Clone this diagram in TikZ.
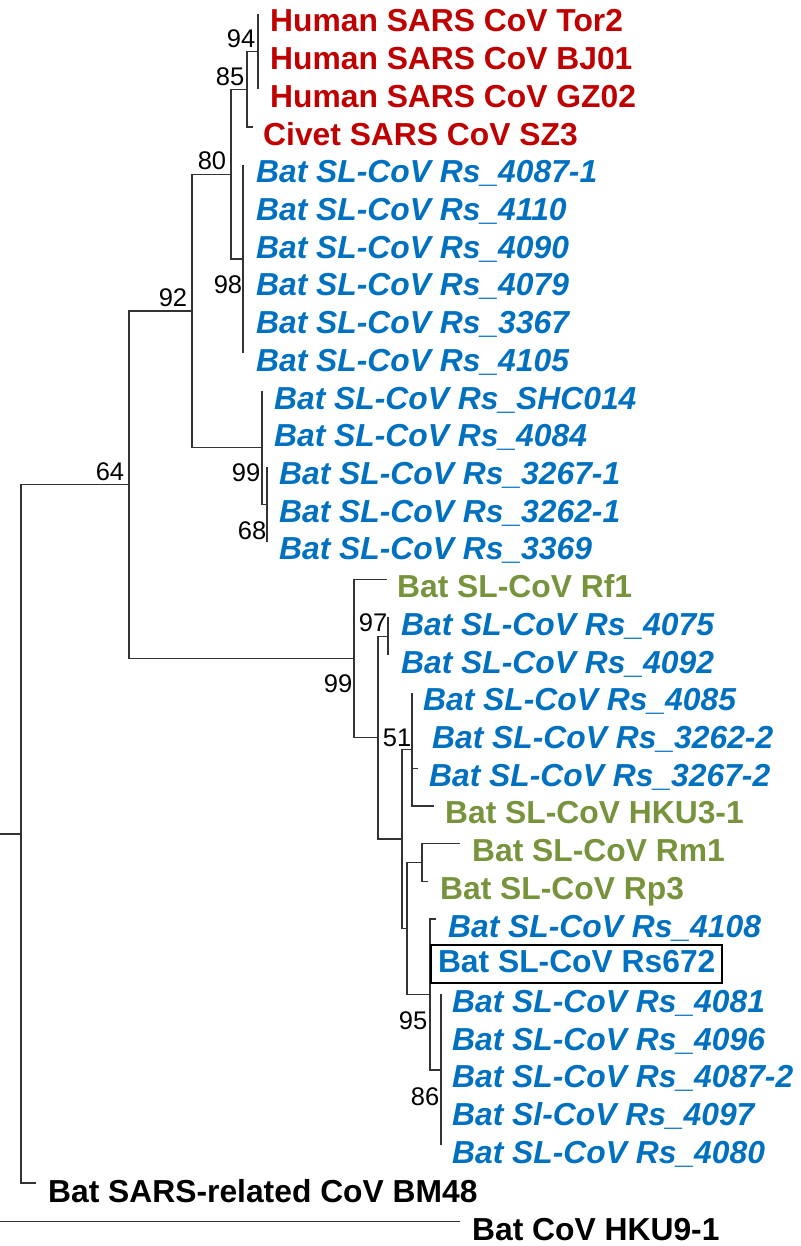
\documentclass[tikz,border=0pt]{standalone}
\usepackage{fontspec}
\setmainfont{Liberation Sans}
\definecolor{sarsred}{HTML}{C00000}
\definecolor{batblue}{HTML}{0070C0}
\definecolor{batgreen}{HTML}{77933C}
\begin{document}
\begin{tikzpicture}[x=1pt,y=-1pt,
  br/.style={line width=1.3pt, draw=black!80},
  lf/.style={anchor=base west, inner sep=0pt, font=\fontsize{31.8}{36}\selectfont\bfseries},
  hum/.style={lf, text=sarsred},
  bat/.style={lf, text=batblue, font=\fontsize{31.8}{36}\selectfont\bfseries\itshape},
  grn/.style={lf, text=batgreen},
  blk/.style={lf, text=black},
  bs/.style={inner sep=0pt, font=\fontsize{25.5}{28}\selectfont, text height=18.3pt, text depth=0pt, anchor=center}]
\useasboundingbox (0,0) rectangle (800,1246);
% internal nodes
\coordinate (r0) at (0,833.9);
\coordinate (rt) at (21,833.9);
\coordinate (n64) at (129,484.8);
\coordinate (n92) at (192,311);
\coordinate (n80) at (231,174.3);
\coordinate (n85) at (247,89.42);
\coordinate (n94) at (258,51.71);
\coordinate (n98) at (243,259.1);
\coordinate (n99a) at (262,447.7);
\coordinate (n68) at (267,504.23);
\coordinate (n99b) at (354,658.6);
\coordinate (nA) at (378,737.6);
\coordinate (n97) at (388,636.2);
\coordinate (nB) at (402,838.9);
\coordinate (n51) at (412,749.3);
\coordinate (nC) at (407,928.5);
\coordinate (nD) at (422,862.5);
\coordinate (n95) at (430,994.5);
\coordinate (n86) at (441,1069.88);
% tips
\coordinate (t1) at (258,14);
\coordinate (t2) at (258,51.71);
\coordinate (t3) at (258,89.42);
\coordinate (t4) at (253,127.13);
\coordinate (t5) at (243,164.84);
\coordinate (t6) at (243,202.55);
\coordinate (t7) at (243,240.26);
\coordinate (t8) at (243,277.97);
\coordinate (t9) at (243,315.68);
\coordinate (t10) at (243,353.39);
\coordinate (t11) at (262,391.1);
\coordinate (t12) at (262,428.81);
\coordinate (t13) at (267,466.52);
\coordinate (t14) at (267,504.23);
\coordinate (t15) at (267,541.94);
\coordinate (t16) at (387,579.65);
\coordinate (t17) at (388,617.36);
\coordinate (t18) at (388,655.07);
\coordinate (t19) at (412,692.78);
\coordinate (t20) at (412,730.49);
\coordinate (t21) at (418,768.2);
\coordinate (t22) at (434,805.91);
\coordinate (t23) at (460,843.62);
\coordinate (t24) at (428,881.33);
\coordinate (t25) at (436,919.04);
\coordinate (t26) at (430,956.75);
\coordinate (t27) at (441,994.46);
\coordinate (t28) at (441,1032.17);
\coordinate (t29) at (441,1069.88);
\coordinate (t30) at (441,1107.59);
\coordinate (t31) at (441,1145.3);
\coordinate (t32) at (36,1183.01);
\coordinate (h0) at (0,1221.5);
\coordinate (t33) at (460,1221.5);
% branches
\draw[br] (r0) -- (rt);
\draw[br] (rt) |- (n64);
\draw[br] (rt) |- (t32);
\draw[br] (n64) |- (n92);
\draw[br] (n64) |- (n99b);
\draw[br] (n92) |- (n80);
\draw[br] (n92) |- (n99a);
\draw[br] (n80) |- (n85);
\draw[br] (n80) |- (n98);
\draw[br] (n85) |- (n94);
\draw[br] (n85) |- (t4);
\draw[br] (n94) |- (t1);
\draw[br] (n94) |- (t3);
\draw[br] (n98) |- (t5);
\draw[br] (n98) |- (t10);
\draw[br] (n99a) |- (t11);
\draw[br] (n99a) |- (n68);
\draw[br] (n68) |- (t13);
\draw[br] (n68) |- (t15);
\draw[br] (n99b) |- (t16);
\draw[br] (n99b) |- (nA);
\draw[br] (nA) |- (n97);
\draw[br] (nA) |- (nB);
\draw[br] (n97) |- (t17);
\draw[br] (n97) |- (t18);
\draw[br] (nB) |- (n51);
\draw[br] (nB) |- (nC);
\draw[br] (n51) |- (t19);
\draw[br] (n51) |- (t21);
\draw[br] (n51) |- (t22);
\draw[br] (nC) |- (nD);
\draw[br] (nC) |- (n95);
\draw[br] (nD) |- (t23);
\draw[br] (nD) |- (t24);
\draw[br] (n95) |- (t25);
\draw[br] (n95) |- (n86);
\draw[br] (n86) |- (t27);
\draw[br] (n86) |- (t31);
\draw[br] (h0) -- (t33);
% leaf labels
\node[hum] (L1) at (270,32) {Human SARS CoV Tor2};
\node[hum] (L2) at (270,69.71) {Human SARS CoV BJ01};
\node[hum] (L3) at (270,107.42) {Human SARS CoV GZ02};
\node[hum] (L4) at (263,145.13) {Civet SARS CoV SZ3};
\node[bat] (L5) at (256,182.84) {Bat SL-CoV Rs\_4087-1};
\node[bat] (L6) at (256,220.55) {Bat SL-CoV Rs\_4110};
\node[bat] (L7) at (256,258.26) {Bat SL-CoV Rs\_4090};
\node[bat] (L8) at (256,295.97) {Bat SL-CoV Rs\_4079};
\node[bat] (L9) at (256,333.68) {Bat SL-CoV Rs\_3367};
\node[bat] (L10) at (256,371.39) {Bat SL-CoV Rs\_4105};
\node[bat] (L11) at (274,409.1) {Bat SL-CoV Rs\_SHC014};
\node[bat] (L12) at (274,446.81) {Bat SL-CoV Rs\_4084};
\node[bat] (L13) at (279,484.52) {Bat SL-CoV Rs\_3267-1};
\node[bat] (L14) at (279,522.23) {Bat SL-CoV Rs\_3262-1};
\node[bat] (L15) at (279,559.94) {Bat SL-CoV Rs\_3369};
\node[grn] (L16) at (397,597.65) {Bat SL-CoV Rf1};
\node[bat] (L17) at (401,635.36) {Bat SL-CoV Rs\_4075};
\node[bat] (L18) at (401,673.07) {Bat SL-CoV Rs\_4092};
\node[bat] (L19) at (423,710.78) {Bat SL-CoV Rs\_4085};
\node[bat] (L20) at (432,748.49) {Bat SL-CoV Rs\_3262-2};
\node[bat] (L21) at (429,786.2) {Bat SL-CoV Rs\_3267-2};
\node[grn] (L22) at (445,823.91) {Bat SL-CoV HKU3-1};
\node[grn] (L23) at (472,861.62) {Bat SL-CoV Rm1};
\node[grn] (L24) at (440,899.33) {Bat SL-CoV Rp3};
\node[bat] (L25) at (448,937.04) {Bat SL-CoV Rs\_4108};
\node[lf, text=batblue, anchor=west, draw=black, line width=2pt, inner xsep=7pt, inner ysep=4.5pt, text height=23pt, text depth=6pt] (L26) at (430,964) {Bat SL-CoV Rs672};
\node[bat] (L27) at (452,1012.46) {Bat SL-CoV Rs\_4081};
\node[bat] (L28) at (452,1050.17) {Bat SL-CoV Rs\_4096};
\node[bat] (L29) at (452,1087.88) {Bat SL-CoV Rs\_4087-2};
\node[bat] (L30) at (452,1125.59) {Bat Sl-CoV Rs\_4097};
\node[bat] (L31) at (452,1163.3) {Bat SL-CoV Rs\_4080};
\node[blk] (L32) at (48,1202) {Bat SARS-related CoV BM48};
\node[blk] (L33) at (472,1240) {Bat CoV HKU9-1};
% bootstrap values
\node[bs] (b94) at (241,38.5) {94};
\node[bs] (b85) at (230,76) {85};
\node[bs] (b80) at (212,160) {80};
\node[bs] (b98) at (228,284) {98};
\node[bs] (b92) at (173,297) {92};
\node[bs] (b99a) at (246,472) {99};
\node[bs] (b68) at (252,530) {68};
\node[bs] (b64) at (110,471) {64};
\node[bs] (b97) at (373,622) {97};
\node[bs] (b99b) at (338,683) {99};
\node[bs] (b51) at (397,737) {51};
\node[bs] (b95) at (413,1020) {95};
\node[bs] (b86) at (425,1096) {86};
\end{tikzpicture}
\end{document}
